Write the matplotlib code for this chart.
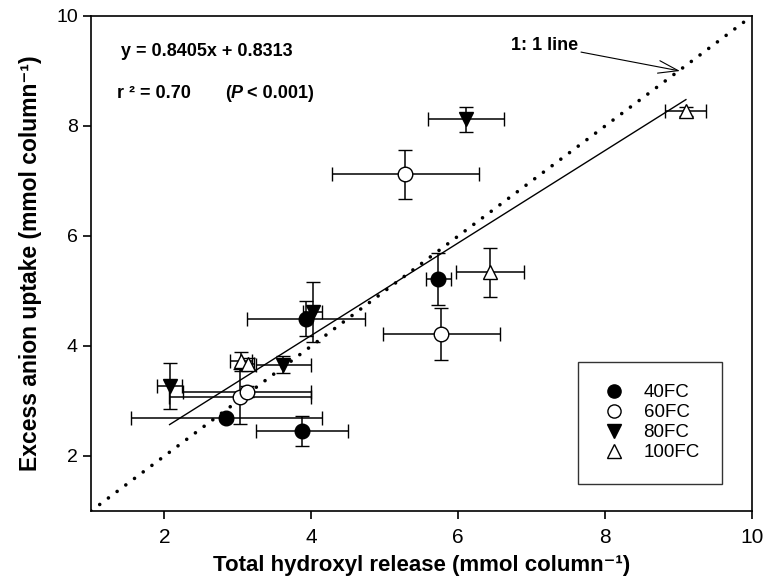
import numpy as np
import matplotlib
matplotlib.use('Agg')
import matplotlib.pyplot as plt
from matplotlib.lines import Line2D

plt.rcParams['font.family'] = ['Liberation Sans', 'DejaVu Sans']
plt.rcParams['axes.linewidth'] = 1.2

# treatments
groups = ['40FC', '60FC', '80FC', '100FC']
markers = ['o', 'o', 'v', '^']
faces = ['black', 'white', 'black', 'white']

# total hydroxyl release (x) and excess anion uptake (y), mmol per column
x40 = [2.84, 3.87, 3.93, 5.73]
y40 = [2.69, 2.46, 4.50, 5.22]
xe40 = [1.30, 0.63, 0.80, 0.17]
ye40 = [0.05, 0.27, 0.32, 0.48]

x60 = [3.03, 3.12, 5.77, 5.28]
y60 = [3.08, 3.17, 4.22, 7.12]
xe60 = [0.97, 0.87, 0.80, 1.00]
ye60 = [0.50, 0.10, 0.47, 0.45]

x80 = [2.07, 3.62, 4.02, 6.11]
y80 = [3.27, 3.66, 4.62, 8.12]
xe80 = [0.17, 0.38, 0.13, 0.52]
ye80 = [0.42, 0.15, 0.55, 0.23]

x100 = [3.04, 3.14, 6.43, 9.10]
y100 = [3.72, 3.68, 5.34, 8.27]
xe100 = [0.15, 0.08, 0.46, 0.28]
ye100 = [0.17, 0.10, 0.45, 0.08]

# regression reported on the chart
slope = 0.8405
intercept = 0.8313

xs = [x40, x60, x80, x100]
ys = [y40, y60, y80, y100]
xes = [xe40, xe60, xe80, xe100]
yes = [ye40, ye60, ye80, ye100]

fig = plt.figure(figsize=(7.65, 5.87), dpi=100)
ax = fig.add_axes([91/765, 76/587, 661/765, 495/587])

# 1:1 line
ax.plot([1, 10], [1, 10], color='black', lw=2.6, linestyle=(0, (0.01, 3.0)),
        dash_capstyle='round', zorder=2)

# fitted line over the range of the data
allx = np.concatenate([np.array(v) for v in xs])
fx = np.array([allx.min(), allx.max()])
ax.plot(fx, slope*fx + intercept, color='black', lw=1.0, zorder=2)

handles = []
for i in range(4):
    ax.errorbar(xs[i], ys[i], xerr=xes[i], yerr=yes[i], fmt=markers[i],
                mfc=faces[i], mec='black', ms=10.5,
                mew=1.0, ecolor='black', elinewidth=1.1, capsize=5, capthick=1.1,
                zorder=3)
    handles.append(Line2D([], [], marker=markers[i], ls='none', mfc=faces[i],
                          mec='black', ms=9.5, mew=1.0, label=groups[i]))

ax.set_xlim(1, 10)
ax.set_ylim(1, 10)
ax.set_xticks([2, 4, 6, 8, 10])
ax.set_yticks([2, 4, 6, 8, 10])
ax.tick_params(direction='out', length=6, width=1.2, labelsize=14,
               top=False, right=False)
ax.tick_params(axis='x', labelsize=15, pad=6)

sup = '\u207b\u00b9'
ax.set_xlabel('Total hydroxyl release (mmol column' + sup + ')',
              fontsize=16, fontweight='bold', labelpad=6)
ax.set_ylabel('Excess anion uptake (mmol column' + sup + ')',
              fontsize=16.5, fontweight='bold', labelpad=10)

# equation text
tr = fig.transFigure
fs = 13
fig.text(121/765, 1 - 52/587, 'y = 0.8405x + 0.8313', transform=tr,
         fontsize=fs, fontweight='bold', va='center')
fig.text(117/765, 1 - 94/587, 'r \u00b2 = 0.70', transform=tr,
         fontsize=fs, fontweight='bold', va='center')
fig.text(225/765, 1 - 94/587, '(', transform=tr,
         fontsize=fs, fontweight='bold', va='center')
fig.text(231/765, 1 - 94/587, 'P', transform=tr,
         fontsize=fs, fontweight='bold', style='italic', va='center')
fig.text(247/765, 1 - 94/587, '< 0.001)', transform=tr,
         fontsize=fs, fontweight='bold', va='center')

ax.annotate('1: 1 line', xy=(9.02, 9.0), xytext=(6.72, 9.47),
            fontsize=13, fontweight='bold', va='center', ha='left',
            arrowprops=dict(arrowstyle='->,head_length=1.1,head_width=0.35',
                            color='black', lw=0.8, shrinkA=0, shrinkB=0))

leg = ax.legend(handles=handles, loc='lower right', bbox_to_anchor=(0.955, 0.055),
                fontsize=13.5, frameon=True, fancybox=False, edgecolor='black',
                handlelength=1.4, handletextpad=0.9, borderpad=1.2,
                labelspacing=0.15, borderaxespad=0)
leg.get_frame().set_linewidth(1.0)

fig.savefig('out.png', dpi=100)
